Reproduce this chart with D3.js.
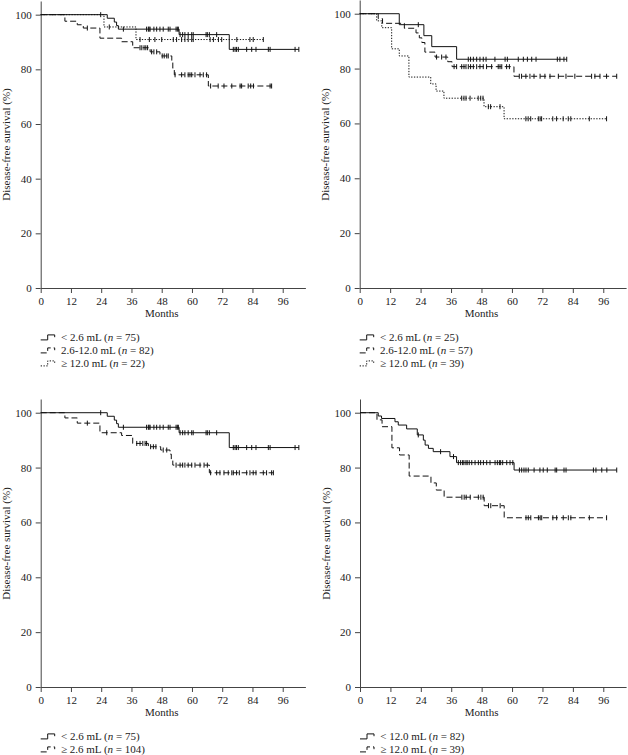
<!DOCTYPE html>
<html>
<head>
<meta charset="utf-8">
<script src="https://cdnjs.cloudflare.com/ajax/libs/d3/7.8.5/d3.min.js"></script>
<style>
  html, body { margin: 0; padding: 0; background: #fff; }
  svg { display: block; font-family: "Liberation Serif", "Times New Roman", serif; }
</style>
</head>
<body>
<div id="chart"></div>
<script>
const monthTicks = [0, 12, 24, 36, 48, 60, 72, 84, 96];
const survivalTicks = [0, 20, 40, 60, 80, 100];

// cohort 1 (top-left and bottom-left panels) : [month, survival %]
const c1LowSteps = [[26.4, 98.7], [29.2, 97.3], [30.1, 96.0], [30.8, 94.7], [54.9, 92.7], [74.8, 87.3]];
const c1LowCensored = [23.8, 32.8, 42.0, 42.7, 43.0, 43.4, 44.9, 46.0, 47.3, 48.6, 50.6, 51.3, 53.7, 54.2, 54.6,
  55.3, 56.3, 57.2, 58.5, 59.9, 60.5, 65.6, 66.1, 66.9, 69.8, 76.4, 77.1, 77.7, 78.4, 81.7, 83.7, 85.4, 90.3, 91.0, 100.9, 102.4];

const c1MidSteps = [[9.6, 97.6], [14.5, 96.3], [16.9, 95.1], [23.5, 91.4], [32.1, 90.1], [36.5, 87.9], [43.4, 86.4],
  [47.3, 84.9], [52.0, 82.7], [52.4, 80.4], [53.0, 78.0], [66.5, 73.9]];
const c1MidCensored = [18.5, 39.4, 40.1, 41.0, 41.7, 42.4, 44.0, 44.9, 46.0, 48.2, 49.0, 50.0, 50.6, 53.3, 55.9, 57.2,
  58.5, 59.2, 59.9, 61.2, 63.2, 64.5, 65.8, 67.4, 70.4, 72.7, 75.8, 79.1, 79.7, 82.3, 83.3, 84.4, 91.0, 91.6];

const c1HighSteps = [[25.1, 95.5], [37.8, 90.9]];
const c1HighCensored = [27.2, 39.4, 43.1, 45.3, 48.0, 52.6, 53.9, 55.9, 57.2, 58.5, 59.9, 60.5, 67.2, 68.5, 70.5, 71.8,
  77.8, 83.0, 84.3, 88.3];

const c1MidHighSteps = [[9.6, 98.1], [14.5, 96.2], [23.5, 92.7], [32.1, 91.7], [36.5, 88.8], [42.7, 87.6], [47.6, 86.4],
  [51.3, 84.9], [51.8, 83.1], [52.4, 80.9], [66.9, 78.1]];
const c1MidHighCensored = [18.5, 26.2, 38.1, 39.4, 40.5, 41.4, 42.0, 43.6, 44.7, 45.7, 48.6, 50.0, 53.7, 55.3, 56.3, 57.2,
  58.5, 59.9, 61.2, 63.2, 64.8, 66.1, 67.4, 69.8, 71.1, 72.7, 74.4, 75.8, 76.4, 77.7, 78.8, 81.7, 83.0, 84.3, 85.4, 88.3,
  89.6, 91.6, 92.3];

// cohort 2 (top-right and bottom-right panels)
const c2LowSteps = [[15.6, 96.0], [25.3, 92.0], [28.4, 88.0], [38.2, 83.4]];
const c2LowCensored = [23.1, 42.8, 43.7, 44.8, 46.1, 47.4, 48.7, 49.8, 53.3, 57.3, 58.2, 62.5, 64.5, 66.1, 67.8, 69.5,
  77.9, 78.9, 80.5, 81.6];

const c2MidSteps = [[7.3, 98.2], [9.0, 96.5], [17.6, 94.7], [22.2, 93.0], [23.5, 91.2], [24.5, 89.5], [25.7, 86.0],
  [29.7, 84.2], [34.7, 82.5], [36.4, 80.7], [60.8, 77.2]];
const c2MidCensored = [30.3, 32.3, 34.0, 37.2, 38.2, 40.2, 41.1, 41.9, 42.8, 43.7, 44.8, 46.1, 47.4, 48.7, 50.0, 52.0,
  54.6, 55.3, 56.0, 57.9, 59.0, 62.9, 63.8, 65.5, 67.1, 68.7, 71.1, 73.0, 75.0, 78.3, 81.3, 84.8, 91.4, 92.7, 94.7,
  97.3, 101.3];

const c2HighSteps = [[6.7, 97.4], [8.7, 94.9], [12.6, 87.2], [15.6, 84.6], [19.4, 76.9], [28.0, 74.4], [30.1, 71.8],
  [33.2, 69.2], [49.0, 66.1], [56.9, 61.7]];
const c2HighCensored = [40.2, 41.1, 41.9, 43.5, 46.7, 47.7, 48.6, 50.7, 51.6, 55.3, 65.5, 66.4, 67.4, 70.4, 71.1, 71.7,
  76.1, 77.6, 80.2, 82.2, 83.2, 90.5, 97.3];

const c2LowMidSteps = [[7.2, 98.8], [8.5, 97.9], [13.8, 96.7], [15.1, 95.5], [18.4, 94.1], [22.6, 91.9], [25.0, 90.0],
  [25.7, 88.2], [27.0, 87.0], [28.9, 85.8], [35.5, 84.0], [38.1, 81.8], [60.8, 79.1]];
const c2LowMidCensored = [23.0, 31.8, 36.9, 38.8, 39.7, 40.5, 41.0, 41.8, 42.3, 43.1, 44.1, 45.4, 46.7, 47.6, 48.7, 50.0,
  51.3, 53.3, 54.2, 55.0, 55.5, 56.3, 57.9, 59.2, 60.3, 62.9, 63.8, 64.7, 65.5, 66.4, 68.7, 71.0, 72.3, 73.9, 77.0,
  77.6, 80.5, 81.3, 92.1, 93.1, 95.4, 97.4, 101.3];

// legend text per panel
const labelsA = ["< 2.6 mL", "2.6-12.0 mL", "\u2265 12.0 mL"];
const countsA = [75, 82, 22];
const labelsB = ["< 2.6 mL", "2.6-12.0 mL", "\u2265 12.0 mL"];
const countsB = [25, 57, 39];
const labelsC = ["< 2.6 mL", "\u2265 2.6 mL"];
const countsC = [75, 104];
const labelsD = ["< 12.0 mL", "\u2265 12.0 mL"];
const countsD = [82, 39];

const SOLID = null, DASHED = "6,3", DOTTED = "1.3,1.5";

const panels = [
  { left: 40.7, bottom: 288, w: 264.7, h: 287,
    curves: [[c1LowSteps, c1LowCensored], [c1MidSteps, c1MidCensored], [c1HighSteps, c1HighCensored]],
    styles: [SOLID, DASHED, DOTTED], labels: labelsA, counts: countsA },
  { left: 359.7, bottom: 288, w: 266.4, h: 288,
    curves: [[c2LowSteps, c2LowCensored], [c2MidSteps, c2MidCensored], [c2HighSteps, c2HighCensored]],
    styles: [SOLID, DASHED, DOTTED], labels: labelsB, counts: countsB },
  { left: 40.7, bottom: 687, w: 264.7, h: 288,
    curves: [[c1LowSteps, c1LowCensored], [c1MidHighSteps, c1MidHighCensored]],
    styles: [SOLID, DASHED], labels: labelsC, counts: countsC },
  { left: 360, bottom: 687, w: 266.1, h: 288,
    curves: [[c2LowMidSteps, c2LowMidCensored], [c2HighSteps, c2HighCensored]],
    styles: [SOLID, DASHED], labels: labelsD, counts: countsD }
];

const svg = d3.select("#chart").append("svg")
  .attr("width", 628)
  .attr("height", 755);

// survival value of a step curve at time t
function survivalAt(steps, t) {
  let s = 100;
  steps.forEach(d => { if (d[0] <= t) s = d[1]; });
  return s;
}

panels.forEach(p => {
  const x = d3.scaleLinear().domain([0, 105]).range([p.left, p.left + p.w]);
  const y = d3.scaleLinear().domain([0, 105]).range([p.bottom, p.bottom - p.h]);
  const g = svg.append("g");

  // axes
  const yAxis = g.append("g")
    .attr("transform", `translate(${p.left},0)`)
    .call(d3.axisLeft(y).tickValues(survivalTicks).tickSize(5).tickPadding(4).tickSizeOuter(0));
  const xAxis = g.append("g")
    .attr("transform", `translate(0,${p.bottom})`)
    .call(d3.axisBottom(x).tickValues(monthTicks).tickSize(5).tickPadding(4).tickSizeOuter(0));
  [xAxis, yAxis].forEach(a => {
    a.selectAll("path, line").attr("stroke", "#444").attr("stroke-width", 1);
    a.selectAll("text")
      .attr("fill", "#222")
      .style("font-size", "11px")
      .style("font-family", "'Liberation Serif', serif");
  });

  // curves
  const line = d3.line().x(d => x(d[0])).y(d => y(d[1])).curve(d3.curveStepAfter);
  p.curves.forEach(([steps, cens], i) => {
    const end = d3.max(cens);
    const last = steps[steps.length - 1][1];
    const pts = [[0, 100], ...steps, [end, last]];
    g.append("path")
      .attr("d", line(pts))
      .attr("fill", "none")
      .attr("stroke", "#111")
      .attr("stroke-width", 1)
      .attr("stroke-dasharray", p.styles[i]);

    g.selectAll(null)
      .data(cens)
      .join("line")
      .attr("x1", d => x(d)).attr("x2", d => x(d))
      .attr("y1", d => y(survivalAt(steps, d)) - 2.5)
      .attr("y2", d => y(survivalAt(steps, d)) + 2.5)
      .attr("stroke", "#111")
      .attr("stroke-width", 1);
  });

  // axis titles
  g.append("text")
    .attr("x", x(48))
    .attr("y", p.bottom + 29)
    .attr("text-anchor", "middle")
    .attr("fill", "#222")
    .style("font-size", "11px")
    .text("Months");

  g.append("text")
    .attr("transform", `translate(${p.left - 30.5},${p.bottom - 143.5}) rotate(-90)`)
    .attr("text-anchor", "middle")
    .attr("fill", "#222")
    .style("font-size", "11px")
    .text("Disease-free survival (%)");

  // legend
  p.labels.forEach((lab, i) => {
    const by = p.bottom + 53 + i * 13;
    const cy = by - 3.8;
    g.append("path")
      .attr("d", `M${p.left},${cy + 2.7}H${p.left + 7}V${cy - 2.3}H${p.left + 14}V${cy}`)
      .attr("fill", "none")
      .attr("stroke", "#111")
      .attr("stroke-width", 1)
      .attr("stroke-dasharray", p.styles[i]);
    const t = g.append("text")
      .attr("x", p.left + 20.3)
      .attr("y", by)
      .attr("fill", "#222")
      .style("font-size", "11px");
    t.append("tspan").text(`${lab} (`);
    t.append("tspan").style("font-style", "italic").text("n");
    t.append("tspan").text(` = ${p.counts[i]})`);
  });
});
</script>
</body>
</html>
